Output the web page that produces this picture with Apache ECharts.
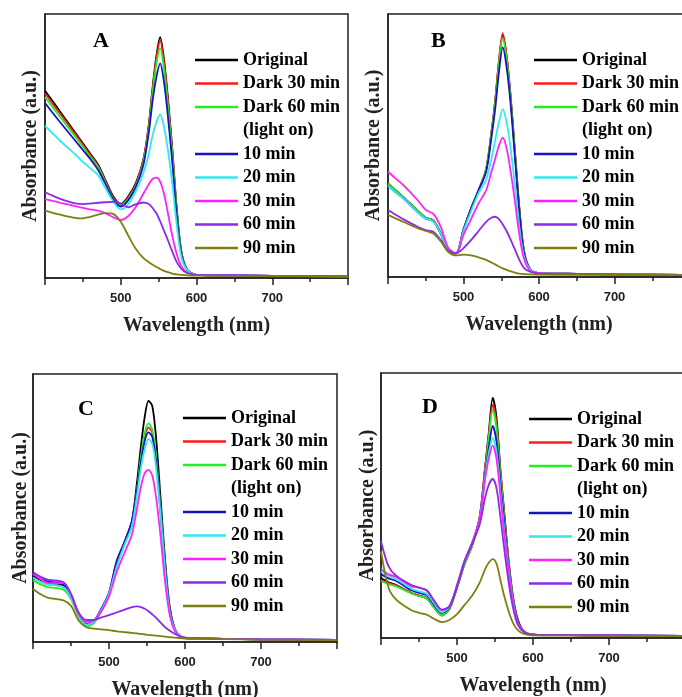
<!DOCTYPE html>
<html>
<head>
<meta charset="utf-8">
<script src="https://cdn.jsdelivr.net/npm/echarts@6/dist/echarts.min.js"></script>
<style>html,body{margin:0;padding:0;background:#fff;}#c{width:682px;height:697px;}</style>
</head>
<body>
<div id="c"></div>
<script>
// Wavelength sample points (nm)
const wavelengths = [400,410,420,440,450,460,470,480,490,500,510,520,530,537,542,547,552,557,562,568,574,580,588,600,650,700,800];
const seriesNames = ['Original','Dark 30 min','Dark 60 min','10 min','20 min','30 min','60 min','90 min'];
const legendNames = ['Original','Dark 30 min','Dark 60 min','(light on)','10 min','20 min','30 min','60 min','90 min'];
const panelLabels = ['A','B','C','D'];
const xTicks = [500,600,700];

// Panel A (absorbance, a.u.)
const A_orig = [0.709,0.67,0.63,0.55,0.51,0.47,0.43,0.37,0.31,0.28,0.31,0.36,0.45,0.58,0.72,0.84,0.912,0.83,0.69,0.49,0.26,0.10,0.03,0.012,0.01,0.008,0.006];
const A_d30  = [0.70,0.66,0.622,0.545,0.505,0.465,0.425,0.365,0.305,0.278,0.305,0.355,0.45,0.575,0.71,0.83,0.899,0.82,0.68,0.48,0.255,0.10,0.03,0.012,0.01,0.008,0.006];
const A_d60  = [0.686,0.648,0.61,0.535,0.497,0.458,0.42,0.36,0.30,0.275,0.30,0.35,0.44,0.565,0.70,0.81,0.87,0.795,0.66,0.47,0.25,0.095,0.03,0.012,0.01,0.008,0.006];
const A_10   = [0.663,0.626,0.59,0.52,0.485,0.45,0.41,0.355,0.298,0.27,0.295,0.345,0.43,0.55,0.67,0.76,0.813,0.745,0.62,0.44,0.235,0.09,0.03,0.012,0.01,0.008,0.006];
const A_20   = [0.576,0.548,0.52,0.468,0.44,0.415,0.39,0.34,0.29,0.26,0.28,0.33,0.40,0.47,0.54,0.59,0.62,0.575,0.49,0.36,0.20,0.08,0.03,0.012,0.01,0.008,0.006];
const A_30   = [0.299,0.292,0.285,0.272,0.266,0.26,0.255,0.245,0.23,0.22,0.235,0.27,0.32,0.355,0.375,0.38,0.365,0.32,0.25,0.16,0.09,0.045,0.02,0.012,0.01,0.008,0.006];
const A_60   = [0.325,0.312,0.30,0.283,0.28,0.282,0.285,0.287,0.288,0.283,0.268,0.28,0.286,0.28,0.265,0.245,0.215,0.18,0.145,0.10,0.06,0.035,0.018,0.012,0.01,0.008,0.006];
const A_90   = [0.255,0.247,0.24,0.228,0.226,0.232,0.24,0.246,0.243,0.213,0.16,0.11,0.075,0.06,0.05,0.042,0.034,0.027,0.022,0.017,0.014,0.012,0.01,0.009,0.008,0.007,0.006];

// Panel B
const B_orig = [0.356,0.33,0.305,0.25,0.225,0.215,0.165,0.10,0.09,0.18,0.26,0.33,0.41,0.55,0.67,0.82,0.92,0.84,0.70,0.48,0.26,0.10,0.03,0.015,0.012,0.01,0.008];
const B_d30  = [0.356,0.33,0.305,0.25,0.225,0.215,0.165,0.10,0.09,0.18,0.26,0.33,0.41,0.55,0.67,0.825,0.927,0.845,0.70,0.48,0.26,0.10,0.03,0.015,0.012,0.01,0.008];
const B_d60  = [0.356,0.33,0.305,0.25,0.225,0.215,0.165,0.10,0.09,0.18,0.26,0.33,0.41,0.545,0.66,0.81,0.908,0.83,0.69,0.475,0.255,0.10,0.03,0.015,0.012,0.01,0.008];
const B_10   = [0.347,0.323,0.30,0.245,0.222,0.212,0.163,0.10,0.09,0.18,0.26,0.33,0.40,0.53,0.64,0.78,0.873,0.80,0.67,0.46,0.25,0.095,0.03,0.015,0.012,0.01,0.008];
const B_20   = [0.347,0.323,0.30,0.245,0.222,0.212,0.163,0.10,0.09,0.175,0.25,0.32,0.37,0.45,0.52,0.59,0.638,0.59,0.50,0.35,0.19,0.08,0.03,0.015,0.012,0.01,0.008];
const B_30   = [0.40,0.375,0.35,0.29,0.255,0.24,0.19,0.11,0.09,0.16,0.22,0.28,0.33,0.40,0.45,0.50,0.53,0.49,0.41,0.29,0.16,0.07,0.025,0.015,0.012,0.01,0.008];
const B_60   = [0.255,0.237,0.22,0.19,0.178,0.172,0.14,0.10,0.09,0.11,0.14,0.175,0.21,0.225,0.229,0.22,0.20,0.175,0.145,0.105,0.065,0.035,0.02,0.013,0.011,0.01,0.008];
const B_90   = [0.236,0.223,0.21,0.185,0.175,0.165,0.135,0.095,0.082,0.085,0.082,0.075,0.065,0.055,0.048,0.04,0.033,0.027,0.022,0.017,0.013,0.011,0.01,0.009,0.008,0.008,0.007];

// Panel C
const C_orig = [0.245,0.23,0.22,0.21,0.17,0.10,0.065,0.075,0.12,0.18,0.29,0.37,0.45,0.60,0.73,0.84,0.90,0.88,0.76,0.53,0.30,0.13,0.04,0.015,0.012,0.01,0.008];
const C_d30  = [0.24,0.225,0.215,0.205,0.165,0.10,0.065,0.075,0.12,0.18,0.30,0.37,0.44,0.57,0.68,0.77,0.80,0.78,0.68,0.48,0.27,0.12,0.04,0.015,0.012,0.01,0.008];
const C_d60  = [0.23,0.215,0.205,0.195,0.16,0.095,0.06,0.07,0.115,0.175,0.28,0.36,0.44,0.57,0.69,0.78,0.816,0.79,0.69,0.49,0.28,0.12,0.04,0.015,0.012,0.01,0.008];
const C_10   = [0.25,0.235,0.225,0.215,0.175,0.105,0.068,0.078,0.125,0.185,0.30,0.37,0.45,0.57,0.67,0.75,0.782,0.765,0.67,0.48,0.27,0.12,0.04,0.015,0.012,0.01,0.008];
const C_20   = [0.24,0.225,0.215,0.205,0.165,0.10,0.065,0.075,0.12,0.18,0.28,0.36,0.43,0.55,0.65,0.72,0.757,0.74,0.65,0.47,0.26,0.11,0.04,0.015,0.012,0.01,0.008];
const C_30   = [0.255,0.235,0.22,0.22,0.175,0.105,0.075,0.08,0.115,0.17,0.26,0.33,0.40,0.50,0.58,0.63,0.642,0.62,0.54,0.39,0.22,0.10,0.035,0.015,0.012,0.01,0.008];
const C_60   = [0.26,0.243,0.232,0.223,0.18,0.11,0.082,0.082,0.092,0.10,0.11,0.12,0.13,0.133,0.13,0.124,0.115,0.103,0.09,0.072,0.055,0.042,0.028,0.016,0.012,0.01,0.008];
const C_90   = [0.198,0.178,0.165,0.155,0.135,0.08,0.055,0.05,0.047,0.044,0.04,0.037,0.034,0.032,0.03,0.028,0.026,0.025,0.024,0.022,0.02,0.018,0.016,0.013,0.011,0.009,0.007];

// Panel D
const D_orig = [0.226,0.21,0.20,0.17,0.16,0.15,0.115,0.085,0.11,0.19,0.28,0.35,0.46,0.645,0.78,0.906,0.83,0.64,0.48,0.29,0.15,0.07,0.025,0.013,0.011,0.01,0.008];
const D_d30  = [0.22,0.207,0.198,0.17,0.16,0.152,0.117,0.087,0.11,0.19,0.28,0.35,0.46,0.64,0.77,0.88,0.81,0.63,0.47,0.285,0.145,0.065,0.025,0.013,0.011,0.01,0.008];
const D_d60  = [0.214,0.203,0.195,0.168,0.158,0.15,0.115,0.085,0.11,0.19,0.28,0.35,0.45,0.63,0.76,0.862,0.79,0.62,0.46,0.28,0.14,0.06,0.025,0.013,0.011,0.01,0.008];
const D_10   = [0.24,0.225,0.215,0.18,0.17,0.162,0.125,0.095,0.115,0.195,0.29,0.36,0.45,0.62,0.72,0.80,0.74,0.59,0.44,0.27,0.135,0.06,0.025,0.013,0.011,0.01,0.008];
const D_20   = [0.25,0.235,0.222,0.186,0.176,0.167,0.13,0.098,0.118,0.195,0.29,0.36,0.45,0.61,0.70,0.755,0.70,0.56,0.41,0.26,0.13,0.055,0.025,0.013,0.011,0.01,0.008];
const D_30   = [0.26,0.24,0.23,0.195,0.19,0.18,0.14,0.105,0.12,0.20,0.29,0.36,0.45,0.60,0.68,0.726,0.675,0.54,0.40,0.25,0.125,0.055,0.025,0.013,0.011,0.01,0.008];
const D_60   = [0.365,0.27,0.235,0.20,0.19,0.18,0.14,0.107,0.12,0.195,0.29,0.355,0.43,0.53,0.58,0.60,0.565,0.46,0.34,0.21,0.11,0.05,0.022,0.013,0.011,0.01,0.008];
const D_90   = [0.327,0.19,0.145,0.105,0.095,0.088,0.072,0.06,0.068,0.09,0.125,0.16,0.21,0.26,0.285,0.298,0.28,0.22,0.16,0.10,0.055,0.03,0.015,0.01,0.009,0.008,0.007];

const panelData = [
  [A_orig,A_d30,A_d60,A_10,A_20,A_30,A_60,A_90],
  [B_orig,B_d30,B_d60,B_10,B_20,B_30,B_60,B_90],
  [C_orig,C_d30,C_d60,C_10,C_20,C_30,C_60,C_90],
  [D_orig,D_d30,D_d60,D_10,D_20,D_30,D_60,D_90]
];

const colors = ['#000000','#ff1a1a','#22ee22','#1515c0','#30e8f0','#ff22ff','#8a2be8','#7f7f10'];

const grids = [
  {left:45, top:14, width:303, height:264},
  {left:388, top:14, width:302, height:263},
  {left:33, top:374, width:304, height:268},
  {left:381, top:373, width:304, height:265}
];
const yNameGaps = [4, 4, 2, 3];
const legendPos = [
  {left:195, top:50},
  {left:534, top:50},
  {left:183, top:408},
  {left:529, top:409}
];
const labelPos = [[93,41],[431,41],[78,409],[422,407]];

const serif = '"Liberation Serif","Times New Roman",serif';
const frame = '#222';

const option = {
  animation:false,
  backgroundColor:'#fff',
  grid: grids.map(g => Object.assign({show:true, borderColor:frame, borderWidth:1.5, backgroundColor:'transparent', outerBoundsMode:'none', containLabel:false}, g)),
  xAxis: grids.map((g,i) => ({
    type:'value', gridIndex:i, min:400, max:800, interval:100,
    name:'Wavelength (nm)', nameLocation:'middle', nameGap:38,
    nameTextStyle:{fontFamily:serif, fontWeight:'bold', fontSize:20, color:'#222'},
    axisLine:{show:true, onZero:false, lineStyle:{color:frame, width:1.5}},
    axisTick:{show:true, inside:false, length:7, lineStyle:{color:frame, width:1.5}},
    minorTick:{show:true, splitNumber:2, length:4, lineStyle:{color:frame, width:1.5}},
    splitLine:{show:false}, minorSplitLine:{show:false},
    axisLabel:{show:true, margin:14, fontFamily:'"Liberation Sans",Arial,sans-serif', fontWeight:'bold', fontSize:13, color:'#222',
      showMinLabel:false, showMaxLabel:false,
      formatter: v => (xTicks.indexOf(v) >= 0 ? String(v) : '')}
  })),
  yAxis: grids.map((g,i) => ({
    type:'value', gridIndex:i, min:0, max:1,
    name:'Absorbance (a.u.)', nameLocation:'middle', nameGap:yNameGaps[i],
    nameTextStyle:{fontFamily:serif, fontWeight:'bold', fontSize:20, color:'#222'},
    axisLine:{show:true, lineStyle:{color:frame, width:1.5}},
    axisTick:{show:false}, axisLabel:{show:false}, splitLine:{show:false}
  })),
  legend: legendPos.map(p => ({
    left:p.left, top:p.top, padding:0, orient:'vertical', selectedMode:false,
    icon:'rect', itemWidth:43, itemHeight:2.5, itemGap:3.5,
    textStyle:{fontFamily:serif, fontWeight:'bold', fontSize:18, lineHeight:20, color:'#000'},
    data: legendNames.map(n => n === '(light on)' ? {name:n, icon:'none'} : n)
  })),
  graphic: panelLabels.map((t,i) => ({
    type:'text', x:labelPos[i][0], y:labelPos[i][1], silent:true,
    style:{text:t, font:'bold 22px ' + serif, fill:'#000', textVerticalAlign:'middle'}
  })),
  series: []
};

panelData.forEach((arrs, p) => {
  arrs.forEach((vals, k) => {
    option.series.push({
      name: seriesNames[k], type:'line', xAxisIndex:p, yAxisIndex:p,
      showSymbol:false, smooth:0.3, color:colors[k],
      lineStyle:{width:1.8, color:colors[k]},
      data: wavelengths.map((w, j) => [w, vals[j]])
    });
  });
});
// placeholder entry so the "(light on)" legend row is drawn as text only
option.series.push({name:'(light on)', type:'line', xAxisIndex:0, yAxisIndex:0, data:[], color:'#fff', showSymbol:false});

const chart = echarts.init(document.getElementById('c'), null, {renderer:'canvas'});
chart.setOption(option);
</script>
</body>
</html>
